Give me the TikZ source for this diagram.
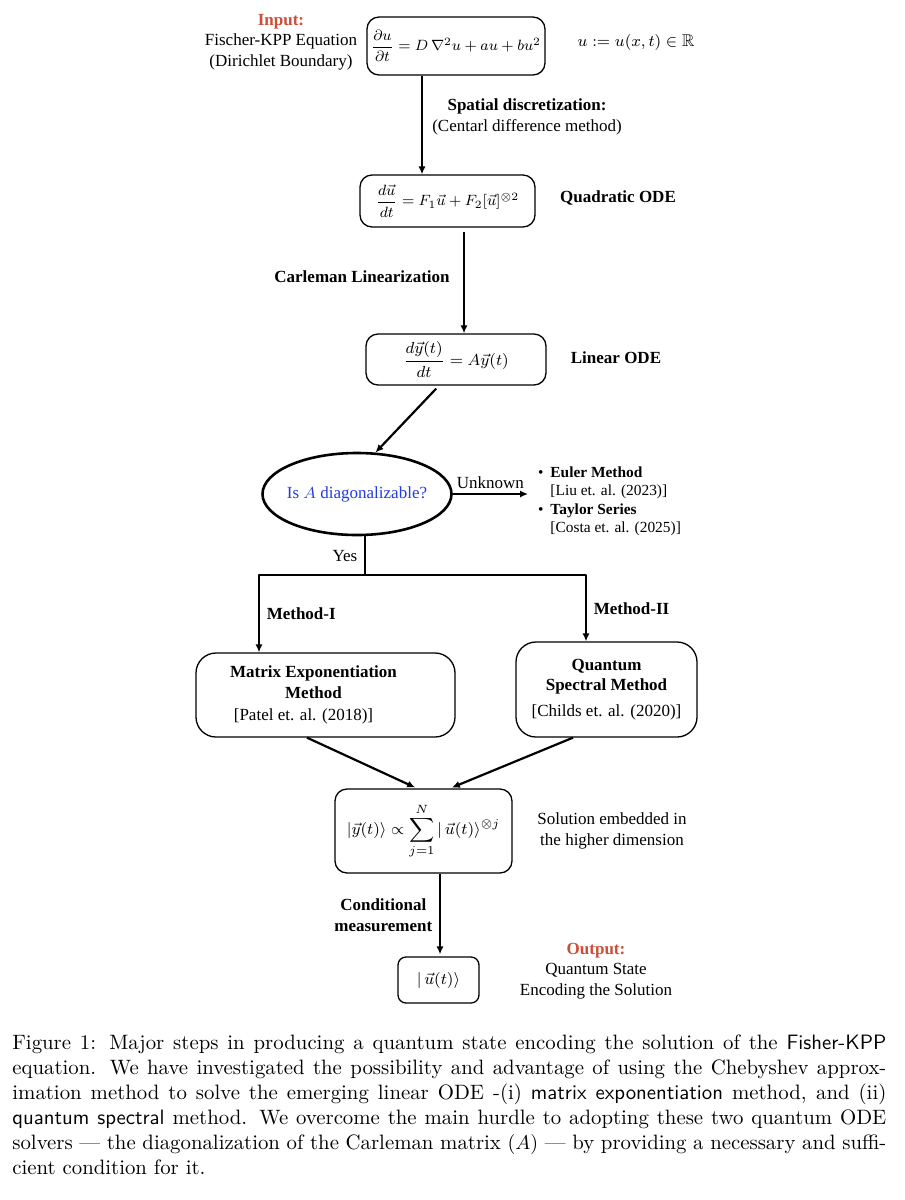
\documentclass[tikz,border=0pt]{standalone}
\usepackage{amsmath,amssymb}
\usepackage{graphicx}
\usepackage{fontspec}
\newfontfamily\figfont{Liberation Serif}
\usetikzlibrary{arrows.meta,shapes.geometric}
\definecolor{inputred}{RGB}{205,78,55}
\definecolor{askblue}{RGB}{35,60,225}

\begin{document}
\begin{tikzpicture}[x=0.5pt,y=-0.5pt,line join=round,>={Latex[length=4pt,width=3.6pt]},
        every node/.style={font=\figfont\fontsize{8.5}{10.2}\selectfont},
        box/.style={draw,line width=0.65pt,rounded corners=6pt,inner sep=0pt},
        arr/.style={->,line width=1.1pt}]
    \path[fill=white,use as bounding box] (0,0) rectangle (905,1200);
    % input and the two ODE forms
    \node[align=center] (inlbl) at (281,42) {\textcolor{inputred}{\textbf{Input:}}\\Fischer-KPP Equation\\(Dirichlet Boundary)};
    \node[box,minimum width=89pt,minimum height=29pt] (pde) at (456,46)
        {\scalebox{0.93}{$\dfrac{\partial u}{\partial t} = D\,\nabla^2 u + au + bu^2$}};
    \node (udef) at (636,42) {$u := u(x,t) \in \mathbb{R}$};
    \node[box,minimum width=87.5pt,minimum height=26pt] (quad) at (447.5,201)
        {\scalebox{0.93}{$\dfrac{d\vec{u}}{dt} = F_1\vec{u} + F_2[\vec{u}]^{\otimes 2}$}};
    \node (quadlbl) at (618,198) {\textbf{Quadratic ODE}};
    \node[box,minimum width=90pt,minimum height=25.5pt] (lin) at (456,359.5)
        {$\dfrac{d\vec{y}(t)}{dt} = A\vec{y}(t)$};
    \node (linlbl) at (616,358) {\textbf{Linear ODE}};
    \draw[arr] (422,0 |- pde.south) -- (422,0 |- quad.north);
    \node[align=center] (disc) at (527,117) {\textbf{Spatial discretization:}\\(Centarl difference method)};
    \draw[arr,shorten <=2pt] (464,0 |- quad.south) -- (464,0 |- lin.north);
    \node (carl) at (362,277) {\textbf{Carleman Linearization}};
    % decision
    \node[ellipse,draw,line width=1.3pt,minimum width=94.5pt,minimum height=41pt,inner xsep=-2pt,inner ysep=0pt,text=askblue]
        (ask) at (357,494) {Is $A$ diagonalizable?};
    \draw[arr,shorten <=2pt] (439,0 |- lin.south) -- (ask.66);
    \draw[arr] (ask.east) -- (528,0 |- ask.east) node[midway,above,inner sep=2pt] (unk) {Unknown};
    \node[anchor=west,font=\figfont\fontsize{7.7}{9.2}\selectfont] (alt) at (531,501.5) {%
        \begin{tabular}{@{}l@{\hspace{3.5pt}}l@{}}
            \textbullet & \textbf{Euler Method}\\
                        & [Liu et. al. (2023)]\\
            \textbullet & \textbf{Taylor Series}\\
                        & [Costa et. al. (2025)]
        \end{tabular}};
    \coordinate (split) at (365,575);
    \draw[line width=1.1pt] (365,0 |- ask.south) -- (split) node[midway,left] (yes) {Yes};
    % two solvers
    \node[box,rounded corners=10pt,minimum width=129.5pt,minimum height=42pt] (meI) at (325.5,695)
        {\begin{tabular}{@{}c@{}}\textbf{Matrix Exponentiation}\\\textbf{Method}\\[1pt]\hspace*{-10pt}[Patel et. al. (2018)]\end{tabular}\hspace*{12pt}};
    \node[box,rounded corners=10pt,minimum width=90.5pt,minimum height=47.5pt] (meII) at (606.5,689.5)
        {\begin{tabular}{@{}c@{}}\textbf{Quantum}\\\textbf{Spectral Method}\\[3pt][Childs et. al. (2020)]\end{tabular}};
    \draw[arr] (split) -| (259,0 |- meI.north) node[pos=0.75,right] (mIlbl) {\textbf{Method-I}};
    \draw[arr] (split) -| (586,0 |- meII.north) node[pos=0.75,right] (mIIlbl) {\textbf{Method-II}};
    % embedded solution and output
    \node[box,minimum width=88.5pt,minimum height=42pt] (res) at (423.5,831)
        {$|\vec{y}(t)\rangle \propto \displaystyle\sum_{j=1}^{N} |\,\vec{u}(t)\rangle^{\otimes j}$};
    \node[align=center] (reslbl) at (612,831) {Solution embedded in\\the higher dimension};
    \foreach \m/\xs/\xe in {meI/307/417, meII/573/450}{
        \draw[arr,shorten >=1pt] (\xs,0 |- \m.south) -- (\xe,0 |- res.north);
    }
    \node[box,rounded corners=4pt,minimum width=40.5pt,minimum height=23pt] (out) at (438.5,980)
        {$|\,\vec{u}(t)\rangle$};
    \draw[arr,shorten >=1pt] (440,0 |- res.south) -- (440,0 |- out.north)
        node[midway,left,align=center] (meas) {\textbf{Conditional}\\\textbf{measurement}};
    \node[align=center] (outlbl) at (596,971) {\textcolor{inputred}{\textbf{Output:}}\\Quantum State\\Encoding the Solution};
    % caption
    \node[anchor=north west,inner sep=0pt,text width=437pt,align=justify,font=\rmfamily\fontsize{10.4}{12.5}\selectfont]
        (cap) at (12,1034) {Figure 1: Major steps in producing a quantum state encoding the solution of the \textsf{Fisher-KPP}\linebreak
        equation. We have investigated the possibility and advantage of using the Chebyshev approx-\linebreak
        imation method to solve the emerging linear ODE -(i) \textsf{matrix exponentiation} method, and (ii)\linebreak
        \textsf{quantum spectral} method. We overcome the main hurdle to adopting these two quantum ODE\linebreak
        solvers --- the diagonalization of the Carleman matrix $(A)$ --- by providing a necessary and suffi-\linebreak
        cient condition for it.};
\end{tikzpicture}
\end{document}
